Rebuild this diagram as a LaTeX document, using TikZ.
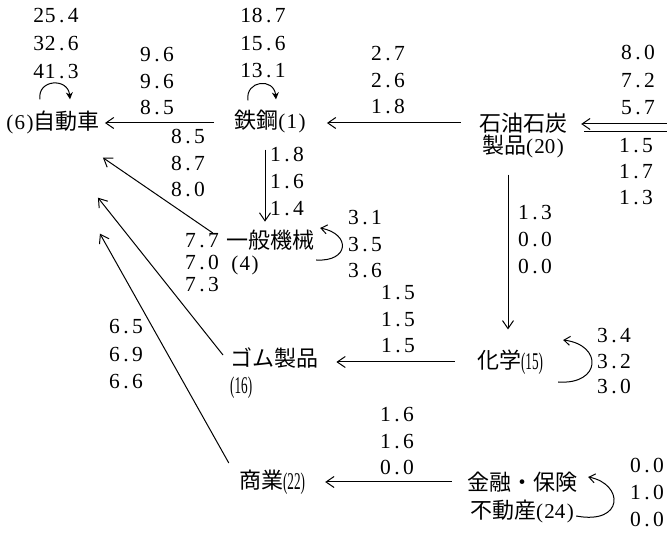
\documentclass[tikz,border=0pt]{standalone}
\usepackage{fontspec}
\usepackage{graphicx}
\setmainfont{Liberation Serif}
\newfontfamily\cjk{Noto Sans CJK JP}
\usetikzlibrary{arrows.meta}
\newcommand\nmA[1]{\ifx\relax#1\else\makebox[11.5pt]{#1}\expandafter\nmA\fi}
\newcommand\pn[1]{{\rmfamily\fontsize{21}{21}\selectfont(\kern1.5pt#1\kern1.5pt)}}
\newcommand\pc[1]{{\rmfamily\fontsize{24}{24}\selectfont\raisebox{-1pt}{\scalebox{0.55}[1]{(#1)}}}}
\newcommand\numcol[5]{\foreach \numv [count=\numk] in {#5}{\node[num] (#1\numk) at (#2,{-#3-(\numk-1)*#4}) {\expandafter\nmA\numv\relax};}}
\tikzset{
  num/.style={inner sep=0pt, font=\fontsize{21.5}{21.5}\selectfont},
  lbl/.style={inner sep=0pt, font=\cjk\fontsize{22}{22}\selectfont},
  conn/.style={draw, line width=1pt},
  arr/.style={conn, -{Straight Barb[length=8pt,width=11pt,line width=1pt]}},
  selfarr/.style={conn, -{Stealth[length=7pt,width=7pt]}},
  sidearr/.style={conn, -{Straight Barb[length=6pt,width=9pt,line width=1pt]}}
}
\begin{document}
\begin{tikzpicture}[x=1pt,y=1pt]
\fill[white] (0,0) rectangle (667,-534);
\useasboundingbox (0,0) rectangle (667,-534);

% sector nodes
\node[lbl] (jidosha) at (53,-122) {\pn{6}自動車};
\node[lbl] (tekko) at (270,-121) {鉄鋼\pn{1}};
\node[lbl] (sekiyu) at (523,-123) {石油石炭};
\node[lbl] (sekiyub) at (523,-146) {製品\pn{20}};
\node[lbl] (ippan) at (270,-240) {一般機械};
\node[lbl] (ippanb) at (245,-265) {\pn{4}};
\node[lbl, anchor=west] (gomu) at (230,-358) {ゴム製品};
\node[lbl, anchor=west] (gomub) at (230,-388) {\pc{16}};
\node[lbl] (kagaku) at (510,-362) {化学\pc{15}};
\node[lbl] (shogyo) at (272,-482) {商業\pc{22}};
\node[lbl] (kinyu) at (522,-482) {金融・保険};
\node[lbl] (kinyub) at (522,-511) {不動産\pn{24}};

% numbers
\numcol{A}{56}{16}{28}{25.4,32.6,41.3}
\numcol{B}{157}{55}{26.5}{9.6,9.6,8.5}
\numcol{C}{188}{137}{26.5}{8.5,8.7,8.0}
\numcol{D}{263}{16}{27.5}{18.7,15.6,13.1}
\numcol{E}{388}{54}{26.5}{2.7,2.6,1.8}
\numcol{F}{638}{53}{27.5}{8.0,7.2,5.7}
\numcol{G}{636}{146}{26}{1.5,1.7,1.3}
\numcol{H}{287}{155}{27}{1.8,1.6,1.4}
\numcol{I}{365}{218}{26.5}{3.1,3.5,3.6}
\numcol{J}{202}{241}{22}{7.7,7.0,7.3}
\numcol{K}{535}{213}{27}{1.3,0.0,0.0}
\numcol{L}{398}{293}{26.5}{1.5,1.5,1.5}
\numcol{M}{614}{336}{25.5}{3.4,3.2,3.0}
\numcol{N}{126}{327}{27.5}{6.5,6.9,6.6}
\numcol{O}{397}{415}{26.5}{1.6,1.6,0.0}
\numcol{P}{647}{466}{27}{0.0,1.0,0.0}

% horizontal / vertical flows
\draw[arr, shorten <=20pt, shorten >=5pt] ([yshift=-2pt]tekko.west) -- ([yshift=-2pt]tekko.west -| jidosha.east);
\draw[arr, shorten <=18pt, shorten >=21pt] (sekiyu.west) -- (sekiyu.west -| tekko.east);
\coordinate (rin) at (667,-124);
\coordinate (rout) at (667,-132);
\draw[arr, shorten >=14pt] (rin) -- (rin -| sekiyu.east);
\draw[conn] (rout) -- ([xshift=17pt]rout -| sekiyu.east);
\draw[arr, shorten <=17pt, shorten >=8pt] ([xshift=-5pt]tekko.south) -- ([xshift=-5pt]tekko.south |- ippan.north);
\draw[arr, shorten <=17pt, shorten >=20pt] ([xshift=-15pt]sekiyub.south) -- ([xshift=-15pt]sekiyub.south |- kagaku.north);
\draw[arr, shorten <=22pt, shorten >=18pt] (kagaku.west) -- (kagaku.west -| gomu.east);
\draw[arr, shorten <=15pt, shorten >=20pt] (kinyu.west) -- (kinyu.west -| shogyo.east);

% diagonal flows into jidosha
\draw[arr] ([shift={(-13,7)}]ippan.west) -- ([shift={(3,-24)}]jidosha.south east);
\draw[arr] ([shift={(-7,3)}]gomu.west) -- ([shift={(-2,-64)}]jidosha.south east);
\draw[arr] ([shift={(-10,19)}]shogyo.west) -- ([shift={(0,-100)}]jidosha.south east);

% self loops
\draw[selfarr] ([shift={(-13,11)}]jidosha.north) .. controls +(-3,20) and +(-2,22) .. ([shift={(17,11)}]jidosha.north);
\draw[selfarr] ([shift={(-22,9)}]tekko.north) .. controls +(-3,20) and +(-2,22) .. ([shift={(6,10)}]tekko.north);
\draw[sidearr] ([shift={(2,-20)}]ippan.east) .. controls +(33,-2) and +(31,-6) .. ([shift={(6,12)}]ippan.east);
\draw[sidearr] ([shift={(15,-20)}]kagaku.east) .. controls +(43,-3) and +(40,-5) .. ([shift={(20,22)}]kagaku.east);
\draw[sidearr] ([shift={(-1,-34)}]kinyu.east) .. controls +(48,-9) and +(36,-7) .. ([shift={(11,5)}]kinyu.east);
\end{tikzpicture}
\end{document}
